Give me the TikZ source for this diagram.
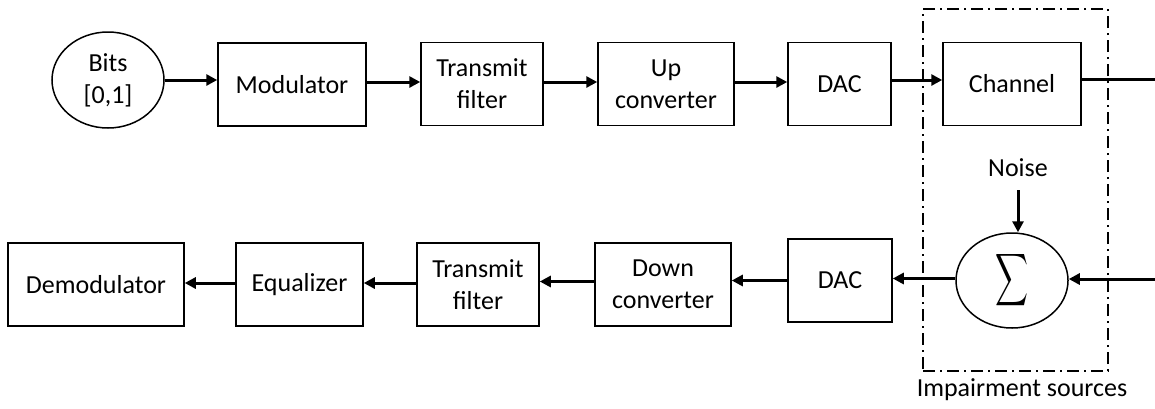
\documentclass[tikz,border=0pt]{standalone}
\usepackage{fontspec}
\usepackage{graphicx}
\setmainfont{Carlito}
\usetikzlibrary{arrows.meta,shapes.geometric}
\begin{document}
\begin{tikzpicture}[x=1pt,y=-1pt,
  blk/.style={draw,line width=1.5pt,rectangle,minimum height=83pt,inner sep=0pt,align=center,font=\fontsize{26}{32}\selectfont},
  oval/.style={draw,line width=1.5pt,ellipse,inner sep=0pt,align=center,font=\fontsize{26}{32}\selectfont},
  conn/.style={line width=3pt,-{Triangle[length=11pt,width=11pt]}},
  plain/.style={line width=3pt},
  lbl/.style={font=\fontsize{26}{32}\selectfont,inner sep=0pt},
  frame/.style={draw,line width=2pt,dash pattern=on 12pt off 5pt on 2pt off 5pt,inner sep=0pt}
]
\useasboundingbox (0,0) rectangle (1155,408);
% top row
\node[oval,minimum width=112pt,minimum height=96pt] (bits) at (108,80) {Bits\\{[0,1]}};
\node[blk,minimum width=148pt] (mod) at (292,84.5) {Modulator};
\node[blk,minimum width=122pt] (tf1) at (482,84) {Transmit\\filter};
\node[blk,minimum width=136pt] (up) at (666,84) {Up\\converter};
\node[blk,minimum width=103pt] (dac1) at (839.5,84) {DAC};
\node[blk,minimum width=138pt] (chan) at (1012,84) {Channel};
% bottom row
\node[blk,minimum width=176pt] (demod) at (96,284.5) {Demodulator};
\node[blk,minimum width=127pt] (eq) at (299.5,284.5) {Equalizer};
\node[blk,minimum width=122pt] (tf2) at (478,284.5) {Transmit\\filter};
\node[blk,minimum width=136pt] (down) at (663,284.5) {Down\\converter};
\node[blk,minimum width=104pt] (dac2) at (840,280.5) {DAC};
\node[oval,minimum width=112pt,minimum height=95pt] (sum) at (1012,280.5) {\resizebox{33pt}{52pt}{$\displaystyle\sum$}};
\node[lbl] (noise) at (1018,168) {Noise};
% impairment frame
\node[frame,minimum width=185pt,minimum height=362pt] (imp) at (1015.5,190) {};
\node[lbl] (implbl) at (1022,390) {Impairment sources};
% free ends
\coordinate (outR) at (1155,79);
\coordinate (inR) at (1155,279);
\coordinate (nz) at (1018,190);
% connectors top
\draw[conn] (bits.east) -- (bits.east -| mod.west);
\draw[conn] ([yshift=2.5pt]mod.east) -- ([yshift=2.5pt]mod.east -| tf1.west);
\draw[conn] ([yshift=2pt]tf1.east) -- ([yshift=2pt]tf1.east -| up.west);
\draw[conn] ([yshift=2pt]up.east) -- ([yshift=2pt]up.east -| dac1.west);
\draw[conn] ([yshift=4pt]dac1.east) -- ([yshift=4pt]dac1.east -| chan.west);
\draw[plain] (outR -| chan.east) -- (outR);
% connectors bottom
\draw[conn] (inR) -- (inR -| sum.east);
\draw[conn] ([yshift=2pt]sum.west) -- ([yshift=2pt]sum.west -| dac2.east);
\draw[conn] (dac2.west) -- (dac2.west -| down.east);
\draw[conn] ([yshift=3pt]down.west) -- ([yshift=3pt]down.west -| tf2.east);
\draw[conn] ([yshift=1.5pt]tf2.west) -- ([yshift=1.5pt]tf2.west -| eq.east);
\draw[conn] ([yshift=1.5pt]eq.west) -- ([yshift=1.5pt]eq.west -| demod.east);
\draw[conn] (nz) -- (nz |- sum.north);
\end{tikzpicture}
\end{document}
